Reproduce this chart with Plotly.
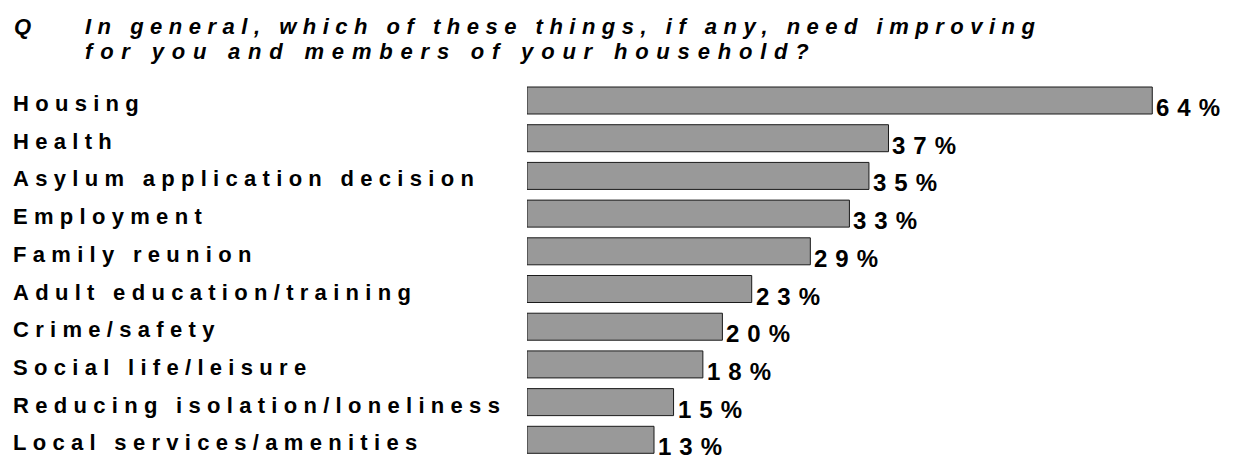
import plotly.graph_objects as go

# ---- data ----
categories = [
    "Housing",
    "Health",
    "Asylum application decision",
    "Employment",
    "Family reunion",
    "Adult education/training",
    "Crime/safety",
    "Social life/leisure",
    "Reducing isolation/loneliness",
    "Local services/amenities",
]
values = [64, 37, 35, 33, 29, 23, 20, 18, 15, 13]
value_labels = [f"{v}%" for v in values]
title_q = "Q"
title_lines = [
    "In general, which of these things, if any, need improving",
    "for you and members of your household?",
]

# ---- layout geometry ----
W, H = 1238, 457
L, R, T, B = 527, 27, 80, 0
pw = W - L - R
ph = H - T - B
px_per_pct = 9.77


def px_x(x):
    return (x - L) / pw


def px_y(y):
    return 1 - (y - T) / ph


FONT = "Liberation Sans, Arial, sans-serif"

fig = go.Figure(
    go.Bar(
        x=values,
        y=categories,
        orientation="h",
        marker=dict(color="#999999", line=dict(color="#1a1a1a", width=1)),
        hoverinfo="skip",
    )
)

annotations = []
# title
annotations.append(dict(
    text=f"<b><i>{title_q}</i></b>", xref="paper", yref="paper",
    x=px_x(12), y=px_y(26), xanchor="left", yanchor="middle", align="left",
    showarrow=False, font=dict(family=FONT, size=22, color="black"),
))
for i, line in enumerate(title_lines):
    annotations.append(dict(
        text=f"<b><i>{line}</i></b>", xref="paper", yref="paper",
        x=px_x(83), y=px_y(26 + 25 * i), xanchor="left", yanchor="middle", align="left",
        showarrow=False, font=dict(family=FONT, size=22, color="black"),
    ))
n_title = 1 + len(title_lines)
# category labels
for c in categories:
    annotations.append(dict(
        text=f"<b>{c}</b>", xref="paper", yref="y",
        x=px_x(11), y=c, xanchor="left", yanchor="middle", align="left",
        yshift=-3, showarrow=False,
        font=dict(family=FONT, size=22, color="black"),
    ))
# value labels
for c, v, lab in zip(categories, values, value_labels):
    annotations.append(dict(
        text=f"<b>{lab}</b>", xref="x", yref="y",
        x=v, y=c, xanchor="left", yanchor="middle", align="left",
        xshift=3, yshift=-7, borderpad=0, showarrow=False,
        font=dict(family=FONT, size=24, color="black"),
    ))

fig.update_layout(
    width=W, height=H,
    margin=dict(l=L, r=R, t=T, b=B, pad=0),
    paper_bgcolor="white", plot_bgcolor="white",
    showlegend=False,
    bargap=0.284,
    xaxis=dict(range=[0, pw / px_per_pct], visible=False, fixedrange=True),
    yaxis=dict(type="category", categoryorder="array", categoryarray=categories,
               range=[9.456, -0.544], visible=False, fixedrange=True),
    annotations=annotations,
)

n_cat = len(categories)
css = []
css.append('.annotation[data-index="1"] .annotation-text{letter-spacing:6.5px}')
css.append('.annotation[data-index="2"] .annotation-text{letter-spacing:7.8px}')
for i in range(n_cat):
    css.append(f'.annotation[data-index="{n_title + i}"] .annotation-text{{letter-spacing:6.3px}}')
for i in range(n_cat):
    css.append(f'.annotation[data-index="{n_title + n_cat + i}"] .annotation-text{{letter-spacing:8px}}')
css_text = " ".join(css)
post = ("var s=document.createElement('style');s.textContent=" + repr(css_text) +
        ";document.head.appendChild(s);")

fig.write_html("out.html", post_script=post)
